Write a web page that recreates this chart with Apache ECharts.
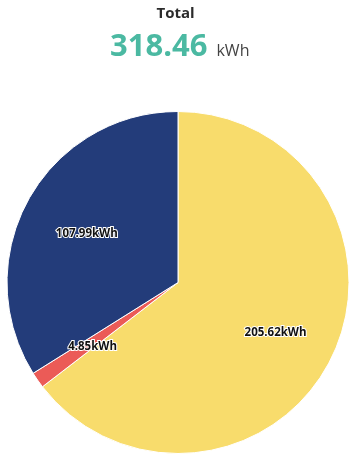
<!DOCTYPE html>
<html>
<head>
<meta charset="utf-8">
<script src="https://cdn.jsdelivr.net/npm/echarts@6/dist/echarts.min.js"></script>
<style>
  html, body { margin: 0; padding: 0; background: #fff; }
  #chart { width: 351px; height: 457px; }
</style>
</head>
<body>
<div id="chart"></div>
<script>
// Energy consumption split
const categories = ['Grid import', 'Battery', 'Solar'];
const values = [205.62, 4.85, 107.99];
const colors = ['#f8dc6c', '#eb5b57', '#233c7a'];
const unit = 'kWh';

const total = values.reduce((a, b) => a + b, 0);
const pieData = categories.map((name, i) => ({ name, value: values[i] }));
const font = "'Open Sans', 'Noto Sans', sans-serif";

const chart = echarts.init(document.getElementById('chart'), null, { renderer: 'canvas' });
chart.setOption({
  animation: false,
  color: colors,
  title: [
    {
      text: 'Total',
      left: 'center',
      top: 1,
      textStyle: { fontFamily: font, fontSize: 15, fontWeight: 'bold', color: '#2b2b2b' }
    },
    {
      text: '{v|' + total.toFixed(2) + '}{u|' + unit + '}',
      left: 110,
      top: 27,
      padding: 0,
      textStyle: {
        rich: {
          v: { fontFamily: font, fontSize: 31, fontWeight: 'bold', color: '#4bb9a2', lineHeight: 40 },
          u: { fontFamily: font, fontSize: 16, fontWeight: 'normal', color: '#444', lineHeight: 40, padding: [9, 0, 0, 9] }
        }
      }
    }
  ],
  series: [
    {
      type: 'pie',
      center: [178, 282.5],
      radius: [0, 171],
      startAngle: 90,
      clockwise: true,
      silent: true,
      itemStyle: { borderColor: '#fff', borderWidth: 1 },
      label: { show: false },
      labelLine: { show: false },
      data: pieData
    },
    {
      // transparent ring that carries the value labels at ~60% radius
      type: 'pie',
      center: [178, 282.5],
      radius: [36, 171],
      startAngle: 90,
      clockwise: true,
      silent: true,
      itemStyle: { color: 'rgba(0,0,0,0)', borderWidth: 0 },
      label: {
        show: true,
        position: 'inside',
        offset: [2, 3],
        formatter: p => p.value.toFixed(2) + unit,
        fontFamily: font,
        fontSize: 11.5,
        fontWeight: 'bold',
        color: '#111',
        textBorderColor: '#fff',
        textBorderWidth: 2
      },
      labelLine: { show: false },
      data: pieData
    }
  ]
});
</script>
</body>
</html>
